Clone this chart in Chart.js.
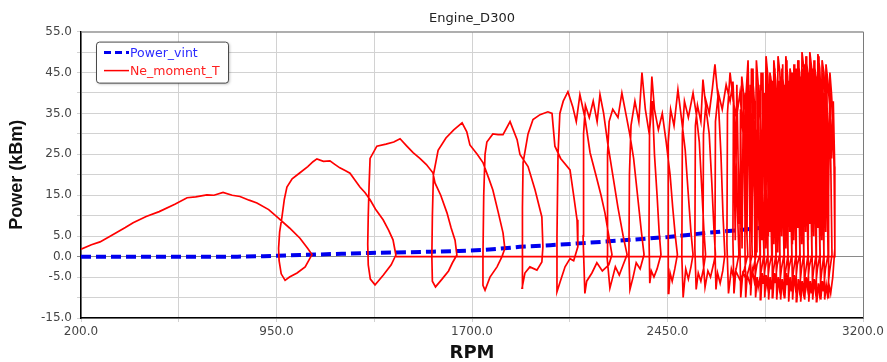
<!DOCTYPE html>
<html>
<head>
<meta charset="utf-8">
<title>Engine_D300</title>
<script src="https://cdn.jsdelivr.net/npm/chart.js@4.4.1/dist/chart.umd.min.js"></script>
<style>
  html, body { margin: 0; padding: 0; background: #fff; }
  #wrap { width: 887px; height: 362px; }
</style>
</head>
<body>
<div id="wrap"><canvas id="engineChart" width="887" height="362"></canvas></div>
<script>
// Power_vint (blue dashed)
var vintRpm   = [200, 500, 800, 900, 950, 1000, 1040, 1100, 1200, 1309, 1400, 1550, 1650, 1738, 1800, 1884, 2000, 2126, 2306, 2452, 2601, 2728, 2843, 2950, 3035];
var vintPower = [0.0, 0.0, 0.0, 0.1, 0.2, 0.3, 0.4, 0.5, 0.7, 0.9, 1.0, 1.2, 1.4, 1.6, 1.9, 2.4, 2.8, 3.3, 4.1, 4.8, 5.8, 6.5, 7.3, 8.2, 9.0];

// Ne_moment_T (red trace), one line per loop
var neRpm = [
  200, 240, 273, 310, 340, 370, 400, 450, 500, 560, 607, 640, 683, 710, 745, 780, 810, 845, 875, 920, 952, 1000, 1040, 1070, 1086,
  1060, 1029, 1000, 983, 968, 960, 958, 962, 971, 980, 990, 1010, 1040, 1070, 1090, 1105, 1130, 1155, 1175, 1193, 1215, 1232, 1250, 1270, 1290, 1309, 1330, 1359, 1380, 1397, 1408,
  1390, 1360, 1340, 1328, 1310, 1302, 1300, 1302, 1305, 1309, 1335, 1370, 1400, 1424, 1450, 1474, 1500, 1525, 1550, 1558, 1580, 1604, 1620, 1635, 1642,
  1625, 1610, 1585, 1560, 1548, 1546, 1548, 1552, 1570, 1600, 1630, 1662, 1680, 1692, 1720, 1742, 1765, 1780, 1800, 1819, 1826,
  1815, 1796, 1769, 1750, 1742, 1742, 1745, 1750, 1757, 1780, 1800, 1819, 1846, 1873, 1884, 1915, 1942, 1968, 1972,
  1968, 1949, 1922, 1903, 1892, 1892, 1895, 1896, 1915, 1934, 1961, 1991, 2007, 2018, 2040, 2076, 2090, 2103, 2106,
  2090, 2076, 2057, 2037, 2026, 2026, 2030, 2037, 2050, 2068, 2087, 2100, 2114, 2133, 2153, 2175, 2195, 2210, 2225, 2237,
  2225, 2200, 2179, 2160, 2140, 2133, 2126, 2128, 2135, 2150, 2165, 2180, 2191, 2205, 2220, 2240, 2260, 2280, 2295,
  2280, 2265, 2250, 2240, 2229, 2218, 2220, 2226, 2240, 2260, 2275, 2290, 2305, 2320, 2335, 2350, 2360,
  2345, 2330, 2318, 2306, 2302, 2304, 2310, 2325, 2340, 2352, 2365, 2380, 2392, 2400, 2410, 2418, 2425,
  2410, 2398, 2388, 2382, 2379, 2381, 2390, 2400, 2415, 2430, 2445, 2460, 2470, 2480, 2488,
  2478, 2468, 2460, 2455, 2452, 2454, 2462, 2475, 2490, 2505, 2518, 2530, 2540, 2548,
  2540, 2530, 2520, 2510, 2505, 2507, 2515, 2530, 2548, 2560, 2572, 2582, 2590, 2596,
  2588, 2578, 2568, 2560, 2555, 2557, 2565, 2578, 2586, 2598, 2610, 2620, 2628, 2634,
  2626, 2615, 2605, 2594, 2586, 2588, 2598, 2610, 2622, 2632, 2645, 2655, 2663, 2670,
  2662, 2652, 2642, 2636, 2632, 2634, 2645, 2660, 2675, 2690, 2701, 2710, 2718, 2724,
  2715, 2705, 2695, 2684, 2678, 2680, 2690, 2702, 2715, 2728, 2740, 2750, 2758,
  2745, 2730, 2712, 2705, 2701, 2703, 2710, 2716, 2725, 2735, 2748, 2759, 2767, 2775,
  2764, 2752, 2739, 2731, 2728, 2730, 2736, 2741, 2748, 2756, 2765, 2774, 2783, 2790,
  2778, 2768, 2756, 2750, 2747, 2749, 2755, 2759, 2766, 2772, 2780, 2790, 2798, 2805,
  2793, 2783, 2775, 2769, 2766, 2768, 2774, 2778, 2785, 2791, 2798, 2808, 2814, 2820,
  2808, 2798, 2794, 2788, 2785, 2787, 2793, 2797, 2803, 2809, 2816, 2825, 2830, 2835,
  2824, 2816, 2813, 2808, 2805, 2807, 2812, 2816, 2822, 2828, 2835, 2842, 2846, 2850,
  2840, 2832, 2828, 2823, 2820, 2822, 2827, 2831, 2837, 2843, 2850, 2858, 2862, 2866,
  2856, 2848, 2844, 2838, 2835, 2837, 2842, 2846, 2852, 2858, 2865, 2873, 2877, 2881,
  2871, 2863, 2860, 2854, 2851, 2853, 2858, 2862, 2868, 2874, 2881, 2889, 2893, 2897,
  2887, 2879, 2875, 2869, 2866, 2868, 2873, 2877, 2883, 2889, 2896, 2904, 2908, 2912,
  2902, 2894, 2890, 2884, 2881, 2883, 2888, 2892, 2898, 2904, 2911, 2919, 2923, 2927,
  2917, 2909, 2906, 2900, 2897, 2899, 2904, 2908, 2914, 2920, 2927, 2935, 2939, 2943,
  2933, 2925, 2921, 2915, 2912, 2914, 2919, 2923, 2929, 2935, 2942, 2950, 2954, 2958,
  2948, 2940, 2936, 2930, 2927, 2929, 2934, 2938, 2944, 2950, 2957, 2965, 2969, 2973,
  2964, 2956, 2952, 2946, 2943, 2945, 2950, 2954, 2960, 2966, 2973, 2981, 2985, 2989,
  2979, 2971, 2967, 2961, 2958, 2960, 2965, 2969, 2975, 2981, 2988, 2996, 3000, 3004,
  2994, 2986, 2982, 2976, 2973, 2975, 2980, 2984, 2990, 2996, 3003, 3012, 3016, 3020,
  3010, 3002, 2998, 2992, 2989, 2991, 2996, 3000, 3006, 3012, 3019, 3027, 3031, 3035,
  3025, 3017, 3013, 3007, 3004, 3006, 3011, 3015, 3021, 3027, 3034, 3042, 3046, 3050,
  3041, 3033, 3029, 3023, 3020, 3022, 3027, 3031, 3037, 3043, 3050, 3058, 3062, 3066,
  3056, 3048, 3044, 3038, 3035, 3037, 3042, 3046, 3052, 3058, 3065, 3073, 3077, 3081,
  3071, 3063, 3059, 3053, 3050, 3052, 3057, 3061, 3067, 3073, 3079, 3085, 3089, 3092,
  3084, 3076, 3070, 3066, 3068, 3074, 3080, 3086, 3092, 3092,
  1408
];
var nePower = [
  1.8, 2.9, 3.6, 4.9, 6.0, 7.1, 8.3, 9.8, 11.0, 12.8, 14.4, 14.6, 15.1, 15.0, 15.7, 15.0, 14.7, 13.8, 13.1, 11.5, 9.7, 7.0, 4.5, 2.0, 0.5,
  -2.5, -4.0, -5.0, -5.8, -4.2, -1.0, 2.0, 6.0, 9.7, 14.0, 17.0, 19.0, 20.5, 22.0, 23.2, 23.9, 23.3, 23.4, 22.5, 21.7, 21.0, 20.4, 18.8, 17.0, 15.6, 13.9, 11.6, 9.0, 6.5, 4.1, 0.4,
  -2.0, -4.5, -6.0, -6.9, -5.5, -2.0, 3.0, 10.0, 17.0, 24.0, 27.0, 27.5, 28.0, 28.8, 27.0, 25.4, 24.0, 22.5, 20.5, 18.0, 15.0, 10.7, 7.0, 4.0, 0.4,
  -1.5, -3.5, -5.5, -7.4, -6.0, 0.0, 10.0, 20.0, 26.0, 29.0, 31.0, 32.7, 30.5, 27.3, 25.0, 23.0, 19.0, 16.3, 11.0, 5.8, 2.0,
  0.0, -2.5, -5.0, -8.2, -7.0, 0.0, 15.0, 25.0, 28.0, 30.0, 29.8, 29.8, 33.0, 28.6, 25.0, 22.0, 16.3, 9.7, 2.4,
  -1.3, -3.3, -2.5, -4.0, -7.7, 0.0, 12.0, 23.0, 30.0, 33.5, 34.7, 35.4, 35.0, 27.0, 24.0, 21.2, 15.0, 9.0, 2.4,
  -1.0, -0.5, -2.5, -6.4, -8.6, 5.0, 25.0, 35.0, 38.0, 40.3, 36.5, 33.0, 39.6, 34.0, 25.4, 20.0, 15.0, 10.7, 5.0, 0.5,
  -2.0, -3.5, -1.5, -4.0, -6.0, -9.0, 5.0, 30.0, 37.0, 34.0, 38.0, 33.0, 39.6, 35.0, 28.0, 20.0, 12.0, 5.0, 0.5,
  -2.0, -4.5, -2.5, -5.0, -7.7, 0.0, 25.0, 33.0, 36.0, 34.0, 40.0, 35.0, 30.0, 24.0, 15.0, 6.0, 0.5,
  -3.0, -1.5, -5.0, -8.0, 0.0, 20.0, 32.0, 38.0, 33.0, 45.0, 36.0, 30.0, 38.0, 25.0, 15.0, 6.0, 0.5,
  -3.0, -5.0, -3.5, -6.5, 5.0, 30.0, 44.0, 36.0, 31.0, 35.0, 28.0, 20.0, 12.0, 5.0, 0.5,
  -3.0, -6.0, -4.0, -9.0, 0.0, 28.0, 36.0, 32.0, 40.8, 33.0, 26.0, 15.0, 6.0, 0.5,
  -2.5, -5.5, -3.0, -10.0, 0.0, 30.0, 38.0, 34.0, 40.0, 35.0, 28.0, 16.0, 6.0, 0.5,
  -3.0, -6.0, -4.0, -8.0, 2.0, 32.0, 37.0, 33.0, 43.3, 36.0, 30.0, 18.0, 7.0, 0.5,
  -2.0, -5.0, -3.5, -7.5, 0.0, 30.0, 38.0, 35.0, 41.0, 47.0, 38.0, 25.0, 10.0, 0.5,
  -3.5, -6.5, -4.0, -8.0, 2.0, 33.0, 40.0, 36.0, 42.0, 38.0, 42.8, 30.0, 12.0, 0.5,
  -2.5, -5.5, -3.0, -9.0, 3.0, 35.0, 45.0, 38.0, 34.0, 40.0, 30.0, 12.0, 0.5,
  -3.0, -6.0, -3.5, -9.0, 4.0, 38.0, 4.0, 42.0, 8.0, 44.0, 36.0, 48.0, 20.0, 0.5,
  -2.5, -5.5, -4.0, -10.0, 2.0, 36.0, 2.0, 40.0, 6.0, 44.0, 38.0, 33.0, 15.0, 0.5,
  -3.5, -7.0, -4.5, -10.0, 3.0, 40.0, 5.0, 44.0, 9.0, 46.0, 41.0, 30.0, 14.0, 0.5,
  -2.0, -6.0, -3.0, -9.5, 5.0, 42.0, 3.0, 46.0, 4.0, 48.0, 42.0, 31.0, 13.0, 0.5,
  -4.0, -7.5, -5.0, -10.0, 2.0, 38.0, 1.0, 43.0, 7.0, 45.0, 40.0, 27.0, 11.0, 0.5,
  -3.0, -6.5, -4.0, -10.5, 4.0, 42.0, 4.0, 45.0, 8.0, 49.0, 44.0, 30.0, 12.0, 0.5,
  -2.5, -7.0, -4.5, -10.0, 3.0, 40.0, 2.0, 47.0, 5.0, 45.0, 42.0, 28.0, 14.0, 0.5,
  -3.5, -8.0, -5.0, -10.5, 2.0, 41.0, 6.0, 44.0, 3.0, 48.0, 43.0, 31.0, 13.0, 0.5,
  -2.0, -6.5, -4.0, -10.0, 4.0, 43.0, 3.0, 46.0, 9.0, 49.0, 45.0, 29.0, 12.0, 0.5,
  -3.0, -7.5, -5.0, -10.5, 3.0, 39.0, 1.0, 43.0, 6.0, 46.0, 41.0, 28.0, 11.0, 0.5,
  -4.0, -8.0, -5.5, -10.5, 2.0, 44.0, 5.0, 47.0, 4.0, 49.0, 44.0, 30.0, 13.0, 0.5,
  -2.5, -7.0, -4.0, -10.0, 4.0, 42.0, 2.0, 48.0, 8.0, 46.0, 43.0, 29.0, 12.0, 0.5,
  -3.5, -8.5, -5.0, -11.0, 3.0, 43.0, 6.0, 45.0, 3.0, 47.0, 42.0, 31.0, 14.0, 0.5,
  -2.0, -7.0, -4.5, -10.5, 2.0, 45.0, 4.0, 47.0, 9.0, 48.0, 45.0, 30.0, 12.0, 0.5,
  -3.0, -8.0, -5.5, -11.0, 4.0, 46.0, 7.0, 48.0, 5.0, 50.0, 46.0, 32.0, 13.0, 0.5,
  -4.0, -8.5, -6.0, -11.0, 3.0, 44.0, 3.0, 46.0, 10.0, 49.0, 45.0, 31.0, 14.0, 0.5,
  -2.5, -7.5, -5.0, -10.5, 2.0, 47.0, 6.0, 49.0, 4.0, 50.0, 46.0, 33.0, 15.0, 0.5,
  -3.5, -9.0, -6.0, -11.0, 4.0, 45.0, 8.0, 47.0, 6.0, 48.0, 44.0, 32.0, 13.0, 0.5,
  -3.0, -8.0, -5.5, -10.5, 3.0, 46.0, 5.0, 48.0, 9.0, 49.5, 46.0, 34.0, 16.0, 0.5,
  -4.0, -9.0, -6.5, -11.0, 2.0, 44.0, 7.0, 49.0, 5.0, 48.0, 45.0, 35.0, 18.0, 0.5,
  -3.0, -8.5, -6.0, -10.5, 3.0, 42.0, 4.0, 45.0, 8.0, 47.0, 43.0, 36.0, 20.0, 0.5,
  -4.0, -9.0, -7.0, -10.5, 2.0, 40.0, 6.0, 44.0, 10.0, 45.0, 40.0, 33.0, 22.0, 2.0,
  -5.0, -9.0, -7.0, -10.0, 30.0, 40.0, 24.0, 38.0, 20.0, 0.0,
  0.0
];

if (neRpm.length !== nePower.length) {
  console.error('Ne_moment_T arrays differ: ' + neRpm.length + ' vs ' + nePower.length);
}

function toPoints(xs, ys) {
  return xs.map(function(x, i) { return { x: x, y: ys[i] }; });
}

// grey top/right frame of the plot
var frameLines = {
  id: 'frameLines',
  beforeDatasetsDraw: function(chart) {
    var a = chart.chartArea, ctx = chart.ctx;
    ctx.save();
    ctx.strokeStyle = '#7a7a7a';
    ctx.lineWidth = 1;
    ctx.beginPath();
    ctx.moveTo(a.left, a.top + 0.5);
    ctx.lineTo(a.right + 0.5, a.top + 0.5);
    ctx.lineTo(a.right + 0.5, a.bottom);
    ctx.stroke();
    ctx.restore();
  }
};

// legend box inside the plot, top left
var boxLegend = {
  id: 'boxLegend',
  afterDraw: function(chart) {
    var a = chart.chartArea, ctx = chart.ctx;
    var x = a.left + 15, y = a.top + 10, w = 132, h = 41;
    var textColors = ['#2b2bff', '#ff2020'];
    ctx.save();
    ctx.shadowColor = 'rgba(0,0,0,0.3)';
    ctx.shadowBlur = 3;
    ctx.shadowOffsetX = 1;
    ctx.shadowOffsetY = 1;
    ctx.beginPath();
    ctx.roundRect(x + 0.5, y + 0.5, w, h, 3);
    ctx.fillStyle = '#fff';
    ctx.fill();
    ctx.shadowColor = 'transparent';
    ctx.strokeStyle = '#4a4a4a';
    ctx.lineWidth = 1;
    ctx.stroke();

    ctx.font = '12.5px "DejaVu Sans"';
    ctx.textBaseline = 'middle';
    ctx.textAlign = 'left';
    chart.data.datasets.forEach(function(ds, i) {
      var ly = y + 11 + i * 18;
      ctx.beginPath();
      ctx.setLineDash(ds.borderDash ? [7, 4] : []);
      ctx.lineWidth = ds.borderDash ? 3 : 1.5;
      ctx.strokeStyle = ds.borderColor;
      ctx.moveTo(x + 8, ly);
      ctx.lineTo(x + 33, ly);
      ctx.stroke();
      ctx.setLineDash([]);
      ctx.fillStyle = textColors[i];
      ctx.fillText(ds.label, x + 34, ly + 1);
    });
    ctx.restore();
  }
};

var chart = new Chart(document.getElementById('engineChart'), {
  type: 'scatter',
  data: {
    datasets: [
      {
        label: 'Power_vint',
        data: toPoints(vintRpm, vintPower),
        showLine: true,
        borderColor: '#0000ee',
        borderWidth: 4,
        borderDash: [10, 5],
        pointRadius: 0,
        order: 2
      },
      {
        label: 'Ne_moment_T',
        data: toPoints(neRpm, nePower),
        showLine: true,
        borderColor: '#ff0000',
        borderWidth: 1.7,
        pointRadius: 0,
        order: 1
      }
    ]
  },
  options: {
    responsive: false,
    animation: false,
    layout: { padding: { top: 0, right: 24, bottom: 0, left: 0 } },
    font: { family: '"DejaVu Sans"' },
    plugins: {
      legend: { display: false },
      tooltip: { enabled: false },
      title: {
        display: true,
        text: 'Engine_D300',
        fullSize: false,
        color: '#222',
        font: { family: '"DejaVu Sans"', size: 13, weight: 'normal' },
        padding: { top: 11, bottom: 5 }
      }
    },
    scales: {
      x: {
        type: 'linear',
        min: 200,
        max: 3200,
        afterFit: function(scale) { scale.height = 44; },
        ticks: {
          stepSize: 375,
          autoSkip: false,
          maxRotation: 0,
          color: '#444',
          padding: 3,
          font: { family: '"DejaVu Sans"', size: 12 },
          callback: function(v) { return (v - 200) % 750 === 0 ? v.toFixed(1) : ''; }
        },
        grid: { color: '#d2d2d2', tickLength: 4 },
        border: { color: '#000', width: 1.5 },
        title: {
          display: true,
          text: 'RPM',
          color: '#111',
          padding: 0,
          font: { family: '"DejaVu Sans"', size: 18, weight: 'bold', lineHeight: 1 }
        }
      },
      y: {
        min: -15,
        max: 55,
        afterFit: function(scale) { scale.width = 81; },
        ticks: {
          stepSize: 5,
          autoSkip: false,
          color: '#444',
          padding: 5,
          font: { family: '"DejaVu Sans"', size: 12 },
          callback: function(v) { return (v === 0 || (v + 15) % 10 === 0) ? v.toFixed(1) : ''; }
        },
        grid: {
          color: function(c) { return c.tick && c.tick.value === 0 ? '#8a8a8a' : '#d2d2d2'; },
          tickLength: 4
        },
        border: { color: '#000', width: 1.5 },
        title: {
          display: true,
          text: 'Power (kBm)',
          color: '#111',
          padding: { top: 6, bottom: 0 },
          font: { family: '"Liberation Sans"', size: 18, weight: 'bold' }
        }
      }
    }
  },
  plugins: [frameLines, boxLegend]
});
</script>
</body>
</html>
